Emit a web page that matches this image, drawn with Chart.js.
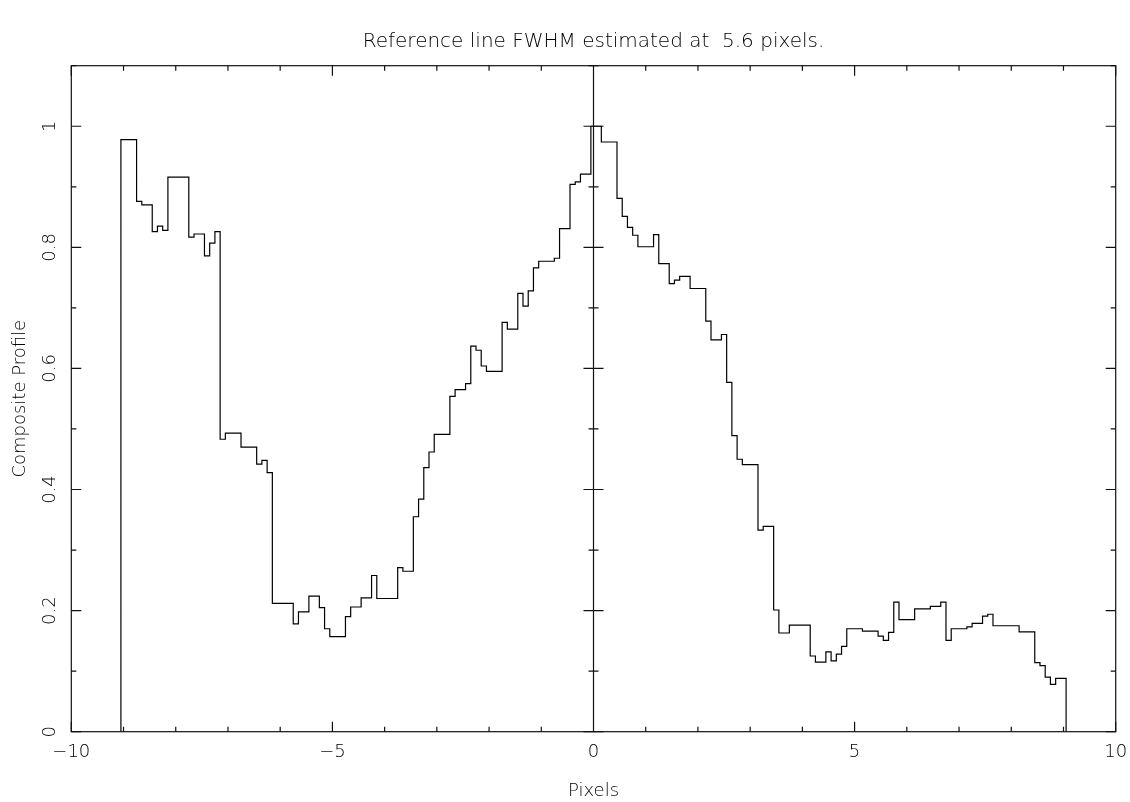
<!DOCTYPE html>
<html>
<head>
<meta charset="utf-8">
<title>Composite Profile</title>
<script src="https://cdn.jsdelivr.net/npm/chart.js@4.4.1/dist/chart.umd.min.js"></script>
<style>
    html, body { margin: 0; padding: 0; background: #fff; }
    #profileChart { display: block; }
</style>
</head>
<body>
<canvas id="profileChart" width="1130" height="802"></canvas>
<script>
// Left edge of each flat run of the binned profile (pixels)
const runStarts = [
    -9.05, -8.75, -8.65, -8.45, -8.35, -8.25, -8.15, -7.75, -7.65, -7.45,
    -7.35, -7.25, -7.15, -7.05, -6.75, -6.45, -6.35, -6.25, -6.15, -5.75,
    -5.65, -5.45, -5.25, -5.15, -5.05, -4.75, -4.65, -4.45, -4.25, -4.15,
    -3.75, -3.65, -3.45, -3.35, -3.25, -3.15, -3.05, -2.75, -2.65, -2.45,
    -2.35, -2.25, -2.15, -2.05, -1.75, -1.65, -1.45, -1.35, -1.25, -1.15,
    -1.05, -0.75, -0.65, -0.45, -0.35, -0.25, -0.05, 0.15, 0.45, 0.55,
    0.65, 0.75, 0.85, 1.15, 1.25, 1.45, 1.55, 1.65, 1.85, 2.15,
    2.25, 2.45, 2.55, 2.65, 2.75, 2.85, 3.15, 3.25, 3.45, 3.55,
    3.75, 4.15, 4.25, 4.45, 4.55, 4.65, 4.75, 4.85, 5.15, 5.45,
    5.55, 5.65, 5.75, 5.85, 6.15, 6.45, 6.65, 6.75, 6.85, 7.15,
    7.25, 7.45, 7.55, 7.65, 8.15, 8.45, 8.55, 8.65, 8.75, 8.85
];
// Profile level over each run
const runLevels = [
    0.978, 0.876, 0.870, 0.826, 0.835, 0.828, 0.916, 0.817, 0.822, 0.786,
    0.807, 0.826, 0.483, 0.493, 0.470, 0.442, 0.448, 0.428, 0.212, 0.178,
    0.198, 0.224, 0.205, 0.170, 0.157, 0.190, 0.206, 0.221, 0.258, 0.220,
    0.271, 0.265, 0.355, 0.384, 0.436, 0.462, 0.491, 0.554, 0.565, 0.575,
    0.637, 0.630, 0.604, 0.595, 0.676, 0.665, 0.724, 0.703, 0.728, 0.766,
    0.777, 0.782, 0.831, 0.904, 0.908, 0.921, 1.000, 0.974, 0.881, 0.851,
    0.833, 0.820, 0.801, 0.821, 0.773, 0.740, 0.746, 0.752, 0.732, 0.678,
    0.647, 0.656, 0.577, 0.489, 0.450, 0.441, 0.333, 0.339, 0.201, 0.163,
    0.176, 0.125, 0.115, 0.132, 0.117, 0.128, 0.141, 0.170, 0.166, 0.158,
    0.151, 0.164, 0.214, 0.185, 0.203, 0.207, 0.214, 0.151, 0.170, 0.173,
    0.179, 0.191, 0.194, 0.175, 0.165, 0.114, 0.109, 0.090, 0.078, 0.088
];
const profileEnd = 9.05;

const xTickValues = [-10, -5, 0, 5, 10];
const xTickLabels = ['\u221210', '\u22125', '0', '5', '10'];
const xMinorStep = 1;
const yTickValues = [0, 0.2, 0.4, 0.6, 0.8, 1];
const yTickLabels = ['0', '0.2', '0.4', '0.6', '0.8', '1'];
const yMinorStep = 0.1;

const titleText = 'Reference line FWHM estimated at  5.6 pixels.';
const xTitle = 'Pixels';
const yTitle = 'Composite Profile';

var fontFamily = "'DejaVu Sans', 'Liberation Sans', sans-serif";
var inkColor = '#000';

// histogram outline: rise from zero, one point per run, back down to zero
var points = [{ x: runStarts[0], y: 0 }];
runStarts.forEach((x, i) => {
    points.push({ x: x, y: runLevels[i] });
});
points.push({ x: profileEnd, y: 0 });

// box, inward ticks on all four sides, and the x = 0 axis
var frameAndTicks = {
    id: 'frameAndTicks',
    afterDraw(chart) {
        var ctx = chart.ctx;
        var area = chart.chartArea;
        var xs = chart.scales.x;
        var ys = chart.scales.y;
        var major = 10, minor = 5;

        ctx.save();
        ctx.strokeStyle = '#111';
        ctx.lineWidth = 1.2;
        ctx.strokeRect(area.left, area.top, area.right - area.left, area.bottom - area.top);

        ctx.beginPath();
        for (var v = xs.min; v <= xs.max + 1e-9; v += xMinorStep) {
            var px = xs.getPixelForValue(v);
            var len = xTickValues.includes(Math.round(v)) ? major : minor;
            ctx.moveTo(px, area.bottom); ctx.lineTo(px, area.bottom - len);
            ctx.moveTo(px, area.top); ctx.lineTo(px, area.top + len);
        }
        var x0 = xs.getPixelForValue(0);
        for (var i = 0; i * yMinorStep <= ys.max + 1e-9; i++) {
            var val = Math.round(i * yMinorStep * 10) / 10;
            var py = ys.getPixelForValue(val);
            var isMajor = yTickValues.some(t => Math.abs(t - val) < 1e-6);
            var len2 = isMajor ? major : minor;
            ctx.moveTo(area.left, py); ctx.lineTo(area.left + len2, py);
            ctx.moveTo(area.right, py); ctx.lineTo(area.right - len2, py);
            ctx.moveTo(x0 - len2, py); ctx.lineTo(x0 + len2, py);
        }
        ctx.moveTo(x0, area.top); ctx.lineTo(x0, area.bottom);
        ctx.stroke();

        // y tick labels, turned to read upwards
        ctx.fillStyle = inkColor;
        ctx.font = '300 18px ' + fontFamily;
        ctx.textAlign = 'center';
        ctx.textBaseline = 'middle';
        yTickValues.forEach((t, idx) => {
            ctx.save();
            ctx.translate(area.left - 21, ys.getPixelForValue(t));
            ctx.rotate(-Math.PI / 2);
            ctx.fillText(yTickLabels[idx], 0, 0);
            ctx.restore();
        });
        ctx.restore();
    }
};

var ctx = document.getElementById('profileChart').getContext('2d');
var profileChart = new Chart(ctx, {
    type: 'line',
    data: {
        datasets: [{
            data: points,
            stepped: 'before',
            borderColor: '#000',
            borderWidth: 1.2,
            pointRadius: 0,
            fill: false,
            tension: 0
        }]
    },
    options: {
        responsive: false,
        animation: false,
        devicePixelRatio: 1,
        layout: { padding: { left: 0, right: 14.3, top: 0, bottom: 0 } },
        plugins: {
            legend: { display: false },
            tooltip: { enabled: false },
            title: {
                display: true,
                text: titleText,
                fullSize: false,
                color: inkColor,
                font: { family: fontFamily, size: 20, weight: 300 },
                padding: { top: 30, bottom: 11.7 }
            }
        },
        scales: {
            x: {
                type: 'linear',
                min: -10,
                max: 10,
                afterBuildTicks: s => { s.ticks = xTickValues.map(v => ({ value: v })); },
                ticks: {
                    autoSkip: false,
                    maxRotation: 0,
                    padding: 10,
                    color: inkColor,
                    font: { family: fontFamily, size: 18, weight: 300 },
                    callback: (value, index) => xTickLabels[index]
                },
                grid: { display: false, drawTicks: false },
                border: { display: false },
                title: {
                    display: true,
                    text: xTitle,
                    color: inkColor,
                    font: { family: fontFamily, size: 18, weight: 300 },
                    padding: { top: 0, bottom: 0 }
                },
                afterFit: s => {
                    s.height = 70.3;
                    s.paddingLeft = 0;
                    s.paddingRight = 0;
                }
            },
            y: {
                type: 'linear',
                min: 0,
                max: 1.1,
                ticks: { display: false },
                grid: { display: false, drawTicks: false },
                border: { display: false },
                title: {
                    display: true,
                    text: yTitle,
                    color: inkColor,
                    font: { family: fontFamily, size: 18, weight: 300 },
                    padding: { top: 10, bottom: 0 }
                },
                afterFit: s => {
                    s.width = 71.3;
                    s.paddingTop = 0;
                    s.paddingBottom = 0;
                }
            }
        }
    },
    plugins: [frameAndTicks]
});
</script>
</body>
</html>
